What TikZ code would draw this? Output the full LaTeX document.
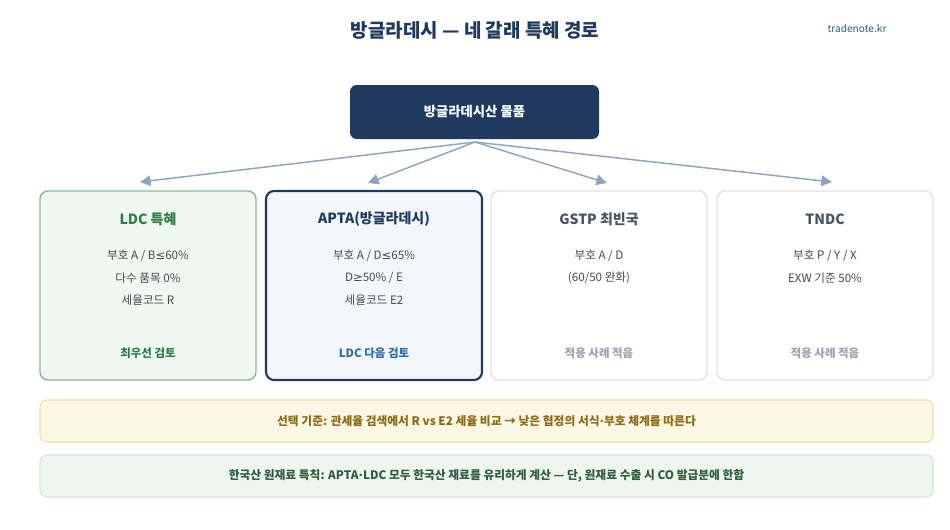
\documentclass[tikz,border=0pt]{standalone}
\usepackage{fontspec}
\setmainfont{Noto Sans CJK KR}
\newfontfamily\symf{DejaVu Sans}
\newcommand{\mLE}{{\symf\char"2264}}
\newcommand{\mGE}{{\symf\char"2265}}
\newcommand{\mDOT}{{\symf\char"00B7}}
\usetikzlibrary{arrows.meta}
\definecolor{navy}{HTML}{1F3A5F}
\definecolor{brandblue}{HTML}{2B5C9A}
\definecolor{arrowc}{HTML}{8FA5BE}
\definecolor{grnfill}{HTML}{F1F7F2}
\definecolor{grnline}{HTML}{86BB94}
\definecolor{grntext}{HTML}{2E7D46}
\definecolor{bluefill}{HTML}{F3F6FB}
\definecolor{bluetext}{HTML}{2F6AA8}
\definecolor{grayline}{HTML}{E0E4E8}
\definecolor{graytitle}{HTML}{4A5563}
\definecolor{grayfoot}{HTML}{9AA3AD}
\definecolor{bodytext}{HTML}{4A4A4A}
\definecolor{yelfill}{HTML}{FDF7E6}
\definecolor{yelline}{HTML}{ECDDA6}
\definecolor{yeltext}{HTML}{8A6A12}
\definecolor{mintfill}{HTML}{EEF6EF}
\definecolor{mintline}{HTML}{D3E7D8}
\definecolor{minttext}{HTML}{2E5E3A}
\tikzset{
  card/.style={draw, rounded corners=6pt, minimum width=162pt, minimum height=141.75pt, line width=1.1pt},
  cardtitle/.style={font=\fontsize{10.5}{12}\selectfont\bfseries},
  cardbody/.style={font=\fontsize{8.7}{12}\selectfont, text=bodytext, align=center},
  cardfoot/.style={font=\fontsize{8.6}{12}\selectfont\bfseries},
  banner/.style={draw, rounded corners=5pt, minimum width=669.75pt, minimum height=31.5pt, line width=0.8pt, font=\fontsize{8.8}{10}\selectfont\bfseries},
  flow/.style={draw=arrowc, line width=1.1pt, -{Triangle[length=8pt,width=8pt]}}
}
\begin{document}
\begin{tikzpicture}[x=0.75pt,y=-0.75pt]
\useasboundingbox (0,0) rectangle (950,529);
\node (title) at (475,30) {\fontsize{14.2}{16}\selectfont\bfseries\color{navy}방글라데시 — 네 갈래 특혜 경로};
\node (brand) at (857,29) {\fontsize{7.6}{10}\selectfont\color{brandblue}tradenote.kr};
\node[fill=navy, rounded corners=5pt, minimum width=186.75pt, minimum height=40.5pt, text=white, font=\fontsize{10}{11}\selectfont\bfseries] (top) at (474.5,112) {방글라데시산 물품};
\coordinate (src) at (475,142);
% cards
\node[card, draw=grnline, fill=grnfill] (ldc) at (148,285.5) {};
\node[card, draw=navy, fill=bluefill, line width=1.6pt] (apta) at (374,285.5) {};
\node[card, draw=grayline, fill=white] (gstp) at (599,285.5) {};
\node[card, draw=grayline, fill=white] (tndc) at (825,285.5) {};
\coordinate (e1) at (140,182);
\coordinate (e2) at (368,183);
\coordinate (e3) at (607,183);
\coordinate (e4) at (832,182);
\draw[flow] (src) -- (e1);
\draw[flow] (src) -- (e2);
\draw[flow] (src) -- (e3);
\draw[flow] (src) -- (e4);
% card texts
\node[cardtitle, text=grntext] (ldct) at (148,219) {LDC 특혜};
\node[cardbody] (ldcb1) at (148,256) {부호 A / B\mLE{}60\%};
\node[cardbody] (ldcb2) at (148,278) {다수 품목 0\%};
\node[cardbody] (ldcb3) at (148,300) {세율코드 R};
\node[cardfoot, text=grntext] (ldcf) at (148,353) {최우선 검토};
\node[cardtitle, text=navy] (aptat) at (374,219) {APTA(방글라데시)};
\node[cardbody] (aptab1) at (374,256) {부호 A / D\mLE{}65\%};
\node[cardbody] (aptab2) at (374,278) {D\mGE{}50\% / E};
\node[cardbody] (aptab3) at (374,300) {세율코드 E2};
\node[cardfoot, text=bluetext] (aptaf) at (374,353) {LDC 다음 검토};
\node[cardtitle, text=graytitle] (gstpt) at (599,219) {GSTP 최빈국};
\node[cardbody] (gstpb1) at (599,256) {부호 A / D};
\node[cardbody] (gstpb2) at (599,278) {(60/50 완화)};
\node[cardfoot, text=grayfoot] (gstpf) at (599,353) {적용 사례 적음};
\node[cardtitle, text=graytitle] (tndct) at (825,219) {TNDC};
\node[cardbody] (tndcb1) at (825,256) {부호 P / Y / X};
\node[cardbody] (tndcb2) at (825,278) {EXW 기준 50\%};
\node[cardfoot, text=grayfoot] (tndcf) at (825,353) {적용 사례 적음};
% banners
\node[banner, draw=yelline, fill=yelfill, text=yeltext] (sel) at (486.5,421) {선택 기준: 관세율 검색에서 R vs E2 세율 비교 → 낮은 협정의 서식\mDOT{}부호 체계를 따른다};
\node[banner, draw=mintline, fill=mintfill, text=minttext] (kor) at (486.5,476) {한국산 원재료 특칙: APTA\mDOT{}LDC 모두 한국산 재료를 유리하게 계산 — 단, 원재료 수출 시 CO 발급분에 한함};
\end{tikzpicture}
\end{document}
